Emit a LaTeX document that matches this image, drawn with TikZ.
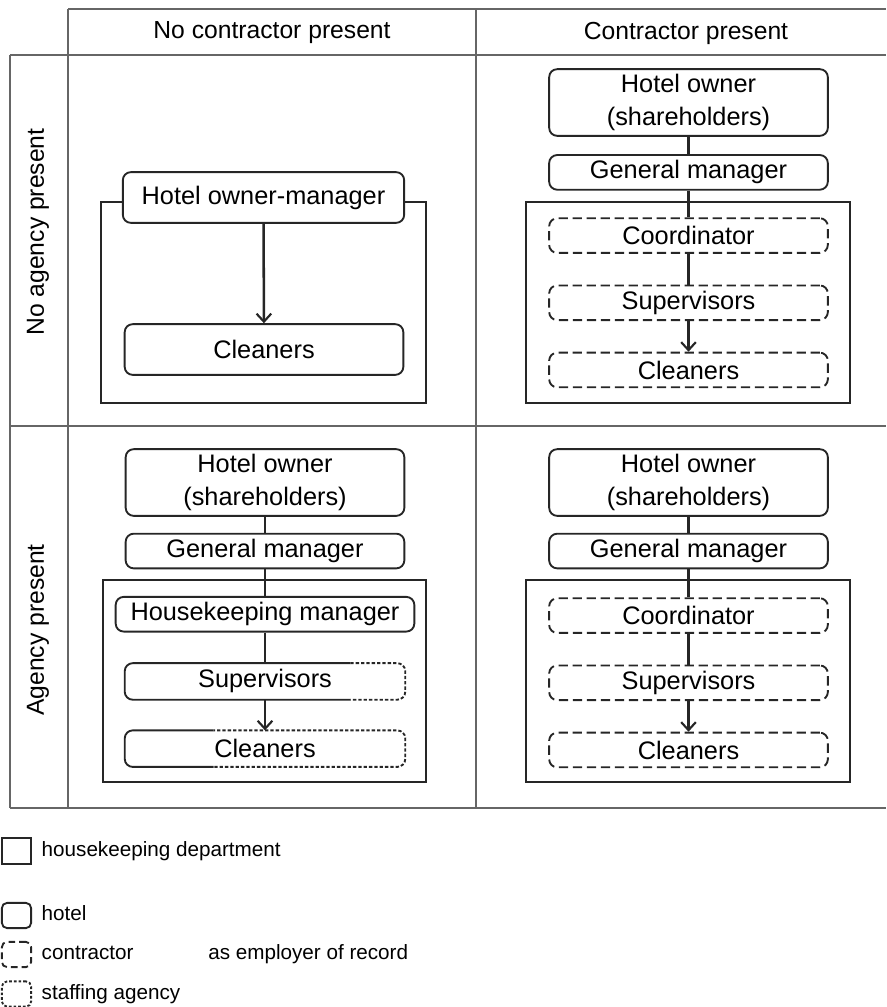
\documentclass[tikz,border=0pt]{standalone}
\usepackage{fontspec}
\setmainfont{Liberation Sans}
\usetikzlibrary{positioning,calc,arrows.meta}

\begin{document}
\begin{tikzpicture}[
    x=0.75pt, y=-0.75pt,
    node distance=23pt,
    grid/.style={draw=black!60, line width=1.4pt},
    hotel/.style={rectangle, rounded corners=6pt, draw=black!85, line width=1.4pt, fill=white, minimum width=209pt, minimum height=26pt, inner sep=0pt, font=\fontsize{19}{25}\selectfont, align=center},
    tall/.style={minimum height=50pt},
    contractor/.style={hotel, dash pattern=on 7pt off 3.5pt},
    agency/.style={line width=1.4pt, draw=black!85, rounded corners=6pt, dash pattern=on 2.5pt off 1.5pt},
    solid part/.style={line width=1.4pt, draw=black!85, rounded corners=6pt},
    bare/.style={hotel, draw=none},
    dept/.style={draw=black!85, line width=1.4pt},
    link/.style={draw=black!85, line width=1.9pt},
    arrow/.style={link, -{Straight Barb[length=6pt,width=11pt,line width=1.6pt]}},
    head/.style={font=\fontsize{18.5}{21}\selectfont},
    legend/.style={font=\fontsize{15.5}{18}\selectfont, anchor=west, inner sep=0pt, text height=11pt, text depth=3pt},
    key/.style={minimum width=22pt, minimum height=19pt, inner sep=0pt, line width=1.4pt, draw=black!85}
]
    \useasboundingbox (0,0) rectangle (886,1007);

    % table grid
    \draw[grid] (68,9) -- (886,9);
    \draw[grid] (10,55) -- (886,55);
    \draw[grid] (10,426) -- (886,426);
    \draw[grid] (10,808) -- (886,808);
    \draw[grid] (10,55) -- (10,808);
    \draw[grid] (68,9) -- (68,808);
    \draw[grid] (476,9) -- (476,808);

    \node[head] (nocon) at (272,33) {No contractor present};
    \node[head] (con) at (686,33) {Contractor present};
    \node[head, rotate=90] (noag) at (38,232) {No agency present};
    \node[head, rotate=90] (ag) at (38,630) {Agency present};

    % no agency, no contractor
    \draw[dept] (101,202) rectangle (426,403);
    \node[hotel, minimum width=211pt, minimum height=38pt] (om1) at (263.5,197.5) {Hotel owner-manager};
    \node[hotel, minimum width=209pt, minimum height=38pt] (cl1) at (264,349.5) {Cleaners};
    \draw[arrow] (om1) -- (cl1);

    % no agency, contractor
    \node[hotel, tall] (ho2) at (688.5,102.5) {Hotel owner\\(shareholders)};
    \node[hotel, below=13pt of ho2] (gm2) {General manager};
    \draw[dept] (526,202) rectangle (850,403);
    \node[contractor, below=20pt of gm2] (co2) {Coordinator};
    \node[contractor, below=of co2] (su2) {Supervisors};
    \node[contractor, below=of su2] (cl2) {Cleaners};
    \draw[link] (ho2) -- (gm2);
    \draw[link] (gm2) -- (co2);
    \draw[link] (co2) -- (su2);
    \draw[arrow] (su2) -- (cl2);

    % agency, no contractor
    \node[hotel, tall] (ho3) at (265,482.5) {Hotel owner\\(shareholders)};
    \node[hotel, below=12pt of ho3] (gm3) {General manager};
    \draw[dept] (103,580) rectangle (426,782);
    \node[hotel, minimum width=224pt, below=20pt of gm3] (hk3) {Housekeeping manager};
    \node[bare, below=of hk3] (su3) {Supervisors};
    \node[bare, below=of su3] (cl3) {Cleaners};
    \begin{scope}
        \clip ($(su3.north west)+(-3,-3)$) rectangle ($(su3.south west)+(226,3)$);
        \draw[solid part] (su3.south west) rectangle (su3.north east);
    \end{scope}
    \begin{scope}
        \clip ($(su3.north west)+(226,-3)$) rectangle ($(su3.south east)+(3,3)$);
        \draw[agency] (su3.south west) rectangle (su3.north east);
    \end{scope}
    \begin{scope}
        \clip ($(cl3.north west)+(-3,-3)$) rectangle ($(cl3.south west)+(89,3)$);
        \draw[solid part] (cl3.south west) rectangle (cl3.north east);
    \end{scope}
    \begin{scope}
        \clip ($(cl3.north west)+(89,-3)$) rectangle ($(cl3.south east)+(3,3)$);
        \draw[agency] (cl3.south west) rectangle (cl3.north east);
    \end{scope}
    \draw[link] (ho3) -- (gm3);
    \draw[link] (gm3) -- (hk3);
    \draw[link] (hk3) -- (su3);
    \draw[arrow] (su3) -- (cl3);

    % agency, contractor
    \node[hotel, tall] (ho4) at (688.5,482.5) {Hotel owner\\(shareholders)};
    \node[hotel, below=12pt of ho4] (gm4) {General manager};
    \draw[dept] (526,580) rectangle (850,782);
    \node[contractor, below=21pt of gm4] (co4) {Coordinator};
    \node[contractor, below=of co4] (su4) {Supervisors};
    \node[contractor, below=of su4] (cl4) {Cleaners};
    \draw[link] (ho4) -- (gm4);
    \draw[link] (gm4) -- (co4);
    \draw[link] (co4) -- (su4);
    \draw[arrow] (su4) -- (cl4);

    % legend
    \node[key] (kdept) at (16.5,851) {};
    \node[legend, right=7pt of kdept] (tdept) {housekeeping department};
    \node[key, rounded corners=4pt] (khotel) at (16.5,915.5) {};
    \node[legend, right=7pt of khotel] (thotel) {hotel};
    \node[key, rounded corners=4pt, dash pattern=on 5pt off 3pt] (kcon) at (16.5,954.5) {};
    \node[legend, right=7pt of kcon] (tcon) {contractor};
    \node[legend] (trecord) at (208,954.5) {as employer of record};
    \node[key, rounded corners=4pt, dash pattern=on 2pt off 1.5pt] (kag) at (16.5,994) {};
    \node[legend, right=7pt of kag] (tag) {staffing agency};
\end{tikzpicture}
\end{document}
